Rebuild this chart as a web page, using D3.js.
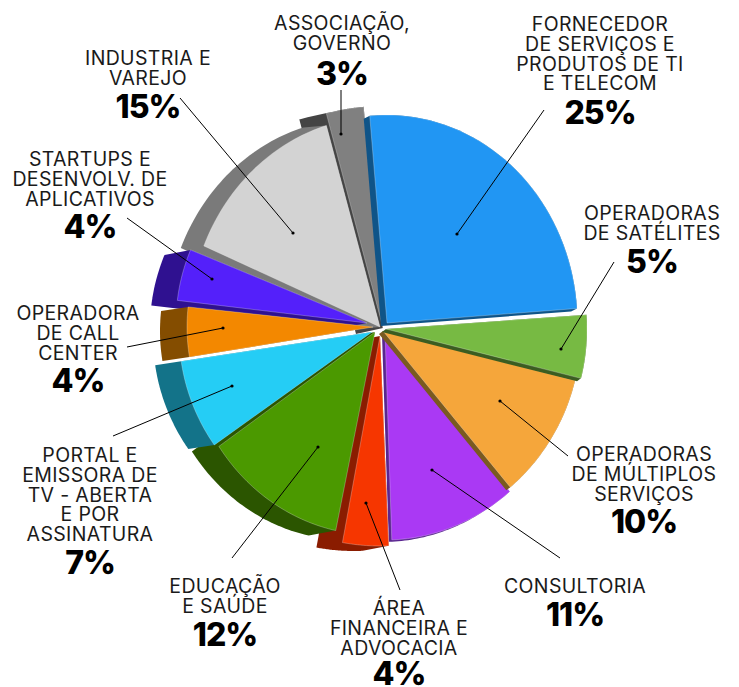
<!DOCTYPE html>
<html>
<head>
<meta charset="utf-8">
<script src="https://cdn.jsdelivr.net/npm/d3@7"></script>
<style>
  html, body { margin: 0; padding: 0; background: #fff; }
  svg { display: block; }
  .name { font-family: Inter, sans-serif; font-size: 19.5px; letter-spacing: 0.35px; fill: #1a1a1a; text-anchor: middle; }
  .pct { font-family: Inter, sans-serif; font-size: 32px; font-weight: 800; letter-spacing: -1px; fill: #000; text-anchor: middle; }
</style>
</head>
<body>
<script>
// chart data, clockwise from the blue slice
const shares = [25, 5, 10, 11, 4, 12, 7, 4, 4, 15, 3];
const names = [
    ['FORNECEDOR', 'DE SERVIÇOS E', 'PRODUTOS DE TI', 'E TELECOM'],
    ['OPERADORAS', 'DE SATÉLITES'],
    ['OPERADORAS', 'DE MÚLTIPLOS', 'SERVIÇOS'],
    ['CONSULTORIA'],
    ['ÁREA', 'FINANCEIRA E', 'ADVOCACIA'],
    ['EDUCAÇÃO', 'E SAÚDE'],
    ['PORTAL E', 'EMISSORA DE', 'TV - ABERTA', 'E POR', 'ASSINATURA'],
    ['OPERADORA', 'DE CALL', 'CENTER'],
    ['STARTUPS E', 'DESENVOLV. DE', 'APLICATIVOS'],
    ['INDUSTRIA E', 'VAREJO'],
    ['ASSOCIAÇÃO,', 'GOVERNO']
];

// look of each slice, same order as above
const frontColors = ['#2196f3', '#77ba43', '#f5a63b', '#aa39f4', '#f63600', '#4b9900', '#25cdf5', '#f38800', '#5420fa', '#d3d3d3', '#808080'];
const wallColors = ['#0f5488', '#3b5d21', '#7a5a20', '#5a2590', '#8a1c00', '#2b5500', '#137389', '#844d00', '#2f1190', '#7a7a7a', '#444444'];
const apexX = [387, 386, 383, 385, 380, 375, 372, 373, 367, 380, 383];
const apexY = [323, 329, 331, 333, 336, 332, 332, 327, 323, 327, 328];
const radX = [190.5, 201, 198, 194, 208, 189, 193, 186, 191, 191, 222];
const radY = [208, 204, 204, 207, 210, 203, 196, 186, 191, 210, 222];
const shiftX = [-6, -4, -4, -3, -26, -27, -26, -27, -26, -23, -27];
const shiftY = [3, 3, 3, 2, 5, 5, 4, 4, 5, 2, 6];
// degrees each edge is turned from its share's true angle, the drawn pie is skewed
const nudgeStart = [-1.2, 0, 0, 0, -2, -2, -2.4, -1.7, 0, 1.5, 0];
const nudgeEnd = [0, 0, 0, -1.6, -3.6, -1.5, -1, -0.6, 1.3, -1.5, -1];
const paintOrder = [10, 9, 8, 7, 3, 4, 5, 6, 2, 1, 0];

// label placement: centre x, first line baseline, percent baseline
const labelX = [600, 652, 644, 575, 399, 225, 90, 78, 90, 148, 342];
const labelY = [31, 220, 461, 593, 615, 593, 462, 320, 166, 65, 30];
const pctY = [124, 273, 533, 626, 685, 646, 574, 392, 238, 118, 85];
const lineGap = 19.8;

// leader lines: dot on the slice, then the end near the label
const dotX = [457, 561, 500, 432, 366, 318, 232, 223, 212, 293, 341];
const dotY = [234, 349, 401, 470, 503, 447, 386, 328, 279, 233, 134];
const endX = [544, 614, 568, 560, 400, 232, 113, 127, 127, 180, 341];
const endY = [110, 262, 456, 558, 590, 558, 436, 347, 218, 98, 90];

const width = 739;
const height = 687;
const svg = d3.select('body').append('svg').attr('width', width).attr('height', height);

const rad = Math.PI / 180;
const pie = d3.pie().sort(null).startAngle(-4 * rad).endAngle(356 * rad);
const arcs = pie(shares);
const line = d3.line();

function outline(i) {
    const a0 = arcs[i].startAngle + nudgeStart[i] * rad;
    const a1 = arcs[i].endAngle + nudgeEnd[i] * rad;
    const steps = 40;
    const pts = [[apexX[i], apexY[i]]];
    for (let s = 0; s <= steps; s++) {
        const t = a0 + (a1 - a0) * s / steps;
        pts.push([apexX[i] + radX[i] * Math.sin(t), apexY[i] - radY[i] * Math.cos(t)]);
    }
    return pts;
}

svg.selectAll('g.slice')
   .data(paintOrder)
   .enter()
   .append('g')
   .attr('class', 'slice')
   .each(function (i) {
       const g = d3.select(this);
       const front = outline(i);
       const back = front.map(p => [p[0] + shiftX[i], p[1] + shiftY[i]]);
       g.append('path')
        .attr('d', line(d3.polygonHull(front.concat(back))) + 'Z')
        .attr('fill', wallColors[i]);
       g.append('path')
        .attr('d', line(front) + 'Z')
        .attr('fill', frontColors[i])
        .attr('stroke', '#fff')
        .attr('stroke-opacity', 0.45)
        .attr('stroke-width', 0.6);
   });

// leaders
shares.forEach((v, i) => {
    svg.append('line')
       .attr('x1', dotX[i]).attr('y1', dotY[i])
       .attr('x2', endX[i]).attr('y2', endY[i])
       .attr('stroke', '#000')
       .attr('stroke-width', 1);
    svg.append('circle')
       .attr('cx', dotX[i]).attr('cy', dotY[i])
       .attr('r', 1.6)
       .attr('fill', '#000');
});

// labels
shares.forEach((v, i) => {
    names[i].forEach((n, k) => {
        svg.append('text')
           .attr('class', 'name')
           .attr('x', labelX[i])
           .attr('y', labelY[i] + k * lineGap)
           .text(n);
    });
    svg.append('text')
       .attr('class', 'pct')
       .attr('x', labelX[i])
       .attr('y', pctY[i])
       .text(v + '%');
});
</script>
</body>
</html>
